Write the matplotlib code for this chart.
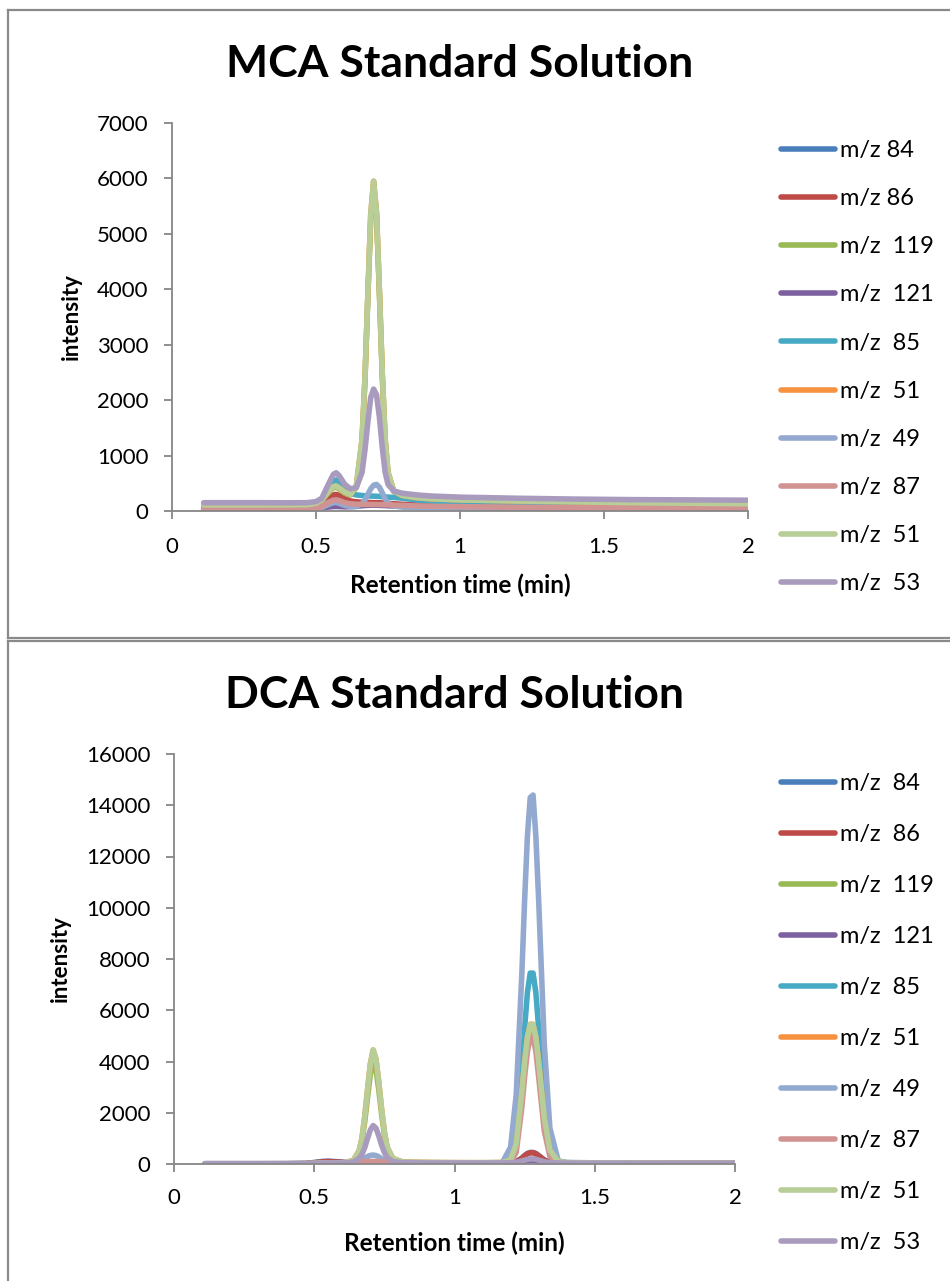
import matplotlib
matplotlib.use('Agg')
import matplotlib.pyplot as plt
from matplotlib.lines import Line2D

plt.rcParams['font.family'] = ['Lato', 'DejaVu Sans']

COLORS = ['#4A7EBB', '#BE4B48', '#98B954', '#7D60A0', '#46AAC5',
          '#F69240', '#93A9CF', '#D19392', '#B9CD96', '#A99BBD']

labels_mca = ['m/z 84', 'm/z 86', 'm/z  119', 'm/z  121', 'm/z  85',
              'm/z  51', 'm/z  49', 'm/z  87', 'm/z  51', 'm/z  53']
labels_dca = ['m/z  84', 'm/z  86', 'm/z  119', 'm/z  121', 'm/z  85',
              'm/z  51', 'm/z  49', 'm/z  87', 'm/z  51', 'm/z  53']

# ---- MCA standard solution (retention time, min) ----
t_mca = [0.11, 0.2, 0.3, 0.4, 0.47, 0.5, 0.52, 0.54, 0.56, 0.57, 0.58, 0.6,
         0.62, 0.64, 0.66, 0.67, 0.68, 0.69, 0.70, 0.71, 0.72, 0.73, 0.74,
         0.75, 0.77, 0.8, 0.85, 0.9, 1.0, 1.2, 1.4, 1.6, 1.8, 2.0]

mca_84 = [30, 30, 30, 30, 32, 50, 100, 190, 245, 250, 235, 190,
          160, 145, 140, 140, 138, 138, 138, 136, 135, 133, 130,
          128, 120, 110, 100, 92, 82, 70, 62, 56, 52, 50]
mca_86 = [40, 40, 40, 40, 42, 60, 110, 220, 290, 300, 280, 220,
          180, 165, 158, 155, 153, 152, 150, 150, 148, 145, 142,
          138, 130, 120, 110, 100, 90, 78, 70, 64, 60, 58]
mca_119 = [100, 100, 100, 100, 105, 130, 190, 310, 420, 430, 400, 320,
           290, 430, 1250, 2350, 3850, 5250, 5900, 5350, 3950, 2450, 1280,
           680, 350, 270, 230, 210, 190, 170, 155, 145, 135, 125]
mca_121 = [20, 20, 20, 20, 22, 30, 50, 70, 80, 82, 80, 75,
           78, 85, 95, 100, 102, 104, 105, 104, 102, 100, 98,
           95, 90, 85, 78, 72, 62, 50, 42, 38, 35, 33]
mca_85 = [70, 70, 70, 70, 75, 100, 170, 380, 540, 560, 520, 400,
          320, 290, 280, 275, 272, 270, 268, 266, 262, 258, 255,
          250, 245, 230, 200, 180, 150, 115, 98, 88, 82, 78]
mca_51o = [110, 110, 110, 110, 115, 140, 200, 330, 440, 450, 420, 340,
           300, 450, 1300, 2400, 3900, 5350, 5950, 5400, 4000, 2500, 1300,
           700, 360, 280, 240, 220, 200, 180, 165, 150, 140, 130]
mca_49 = [40, 40, 40, 40, 42, 48, 60, 110, 150, 155, 140, 100,
          80, 80, 130, 200, 300, 400, 465, 480, 430, 330, 220,
          140, 90, 70, 62, 58, 55, 52, 50, 48, 47, 46]
mca_87 = [30, 30, 30, 30, 32, 45, 80, 150, 195, 200, 190, 150,
          130, 122, 120, 120, 119, 118, 118, 117, 116, 115, 113,
          111, 106, 100, 92, 86, 78, 68, 62, 58, 56, 55]
mca_51g = [110, 110, 110, 110, 115, 140, 200, 330, 440, 450, 420, 340,
           300, 450, 1300, 2400, 3900, 5350, 5950, 5400, 4000, 2500, 1300,
           700, 360, 280, 240, 220, 200, 180, 165, 150, 140, 130]
mca_53 = [150, 150, 150, 148, 150, 170, 230, 450, 660, 690, 640, 480,
          400, 420, 700, 1100, 1600, 2050, 2200, 2100, 1700, 1150, 700,
          480, 360, 320, 290, 270, 250, 230, 215, 205, 200, 195]

# ---- DCA standard solution ----
t_dca = [0.11, 0.2, 0.3, 0.4, 0.47, 0.5, 0.53, 0.55, 0.58, 0.61, 0.64, 0.66,
         0.67, 0.68, 0.69, 0.70, 0.71, 0.72, 0.73, 0.74, 0.75, 0.76, 0.78,
         0.81, 0.85, 0.9, 1.0, 1.1, 1.17, 1.2, 1.22, 1.24, 1.25, 1.26, 1.27,
         1.28, 1.29, 1.3, 1.32, 1.34, 1.37, 1.4, 1.5, 1.7, 2.0]

dca_84 = [10, 10, 10, 12, 20, 60, 100, 110, 90, 60, 45, 40,
          40, 40, 40, 40, 40, 40, 40, 40, 40, 40, 40,
          40, 40, 40, 40, 40, 42, 50, 90, 230, 330, 410, 450,
          450, 410, 330, 160, 70, 40, 35, 30, 25, 20]
dca_86 = [10, 10, 10, 12, 18, 50, 85, 95, 80, 55, 42, 38,
          38, 38, 38, 38, 38, 38, 38, 38, 38, 38, 38,
          38, 38, 38, 38, 38, 40, 48, 85, 220, 320, 400, 440,
          440, 400, 320, 150, 65, 38, 33, 28, 24, 20]
dca_119 = [10, 10, 10, 10, 12, 20, 30, 35, 35, 40, 120, 450,
           900, 1650, 2600, 3500, 4000, 3700, 2900, 1950, 1150, 600, 200,
           90, 60, 55, 50, 50, 55, 160, 750, 2700, 3900, 4800, 5350,
           5350, 4800, 3900, 1750, 520, 90, 50, 40, 30, 20]
dca_121 = [5, 5, 5, 5, 8, 15, 25, 30, 25, 20, 18, 18,
           18, 18, 18, 18, 18, 18, 18, 18, 18, 18, 18,
           18, 18, 18, 18, 18, 20, 25, 40, 80, 110, 135, 150,
           150, 135, 110, 55, 28, 18, 15, 12, 10, 8]
dca_85 = [10, 10, 10, 10, 12, 20, 30, 35, 35, 35, 35, 35,
          35, 35, 35, 35, 35, 35, 35, 35, 35, 35, 35,
          35, 35, 35, 35, 35, 40, 180, 1000, 3600, 5300, 6700, 7450,
          7450, 6700, 5300, 2300, 650, 90, 45, 35, 28, 20]
dca_51o = [10, 10, 10, 10, 12, 20, 30, 35, 35, 45, 150, 520,
           1000, 1850, 2900, 3900, 4450, 4100, 3200, 2150, 1250, 650, 220,
           95, 65, 58, 52, 50, 55, 165, 780, 2800, 4000, 4950, 5450,
           5450, 4950, 4000, 1800, 540, 95, 50, 40, 30, 20]
dca_49 = [10, 10, 10, 10, 12, 20, 30, 35, 35, 40, 60, 120,
          170, 230, 290, 335, 350, 330, 280, 210, 150, 100, 60,
          45, 40, 40, 40, 40, 45, 660, 2700, 7400, 10300, 12800, 14300,
          14400, 12800, 10300, 4700, 1400, 120, 60, 45, 35, 25]
dca_87 = [5, 5, 5, 5, 8, 15, 25, 30, 30, 35, 50, 70,
          80, 90, 95, 100, 100, 98, 95, 90, 85, 80, 72,
          62, 55, 50, 45, 45, 48, 90, 450, 2200, 3400, 4400, 4950,
          4950, 4400, 3400, 1300, 300, 60, 40, 32, 26, 18]
dca_51g = [10, 10, 10, 10, 12, 20, 30, 35, 35, 45, 150, 520,
           1000, 1850, 2900, 3900, 4450, 4100, 3200, 2150, 1250, 650, 220,
           95, 65, 58, 52, 50, 55, 165, 780, 2800, 4000, 4950, 5450,
           5450, 4950, 4000, 1800, 540, 95, 50, 40, 30, 20]
dca_53 = [10, 10, 10, 10, 12, 20, 35, 40, 38, 40, 80, 220,
          380, 640, 1000, 1330, 1500, 1400, 1100, 740, 450, 250, 100,
          55, 45, 40, 40, 40, 42, 50, 70, 120, 150, 180, 200,
          200, 180, 150, 90, 55, 40, 36, 30, 25, 20]

mca_series = [mca_84, mca_86, mca_119, mca_121, mca_85,
              mca_51o, mca_49, mca_87, mca_51g, mca_53]
dca_series = [dca_84, dca_86, dca_119, dca_121, dca_85,
              dca_51o, dca_49, dca_87, dca_51g, dca_53]

AXIS_GRAY = '#868686'
TICK_FS = 16
LEG_FS = 17


def draw_chart(ax, t, series, labels, title, ymax, ystep, leg_y, leg_space,
               xpad, xlabelpad):
    for vals, lab, c in zip(series, labels, COLORS):
        ax.plot(t, vals, color=c, lw=4, label=lab,
                solid_capstyle='round', solid_joinstyle='round')
    ax.set_xlim(0, 2)
    ax.set_ylim(0, ymax)
    ax.set_xticks([0, 0.5, 1, 1.5, 2])
    ax.set_xticklabels(['0', '0.5', '1', '1.5', '2'])
    ax.set_yticks(range(0, ymax + 1, ystep))
    for s in ['top', 'right']:
        ax.spines[s].set_visible(False)
    for s in ['left', 'bottom']:
        ax.spines[s].set_color(AXIS_GRAY)
        ax.spines[s].set_linewidth(1.3)
    ax.tick_params(axis='both', colors=AXIS_GRAY, width=1.3, length=6,
                   labelcolor='black', labelsize=TICK_FS)
    ax.tick_params(axis='y', pad=11)
    ax.tick_params(axis='x', pad=xpad)
    ax.set_title(title, fontsize=32, fontweight='bold', pad=33)
    ax.set_xlabel('Retention time (min)', fontsize=17.5, fontweight='bold',
                  labelpad=xlabelpad)
    ax.set_ylabel('intensity', fontsize=16, fontweight='bold', labelpad=11)
    ax.legend(loc='upper left', bbox_to_anchor=(0.822, leg_y),
              bbox_transform=fig.transFigure, frameon=False, fontsize=LEG_FS,
              handlelength=2.3, handletextpad=0.2, labelspacing=leg_space,
              borderpad=0, borderaxespad=0)


fig = plt.figure(figsize=(9.5, 12.81), dpi=100)

ax1 = fig.add_axes([172 / 950, 1 - 511 / 1281, (748 - 172) / 950, (511 - 123) / 1281])
draw_chart(ax1, t_mca, mca_series, labels_mca, 'MCA Standard Solution',
           7000, 1000, 1 - 140 / 1281, 1.15, 12.5, 12)

ax2 = fig.add_axes([174 / 950, 1 - 1164 / 1281, (735 - 174) / 950, (1164 - 754) / 1281])
draw_chart(ax2, t_dca, dca_series, labels_dca, 'DCA Standard Solution',
           16000, 2000, 1 - 773 / 1281, 1.27, 11, 17)

# chart frames
frame_kw = dict(color='#8A8A8A', lw=1.6, transform=fig.transFigure)
fx = 8 / 950
fig.add_artist(Line2D([fx, 1], [1 - 10 / 1281, 1 - 10 / 1281], **frame_kw))
fig.add_artist(Line2D([fx, fx], [1 - 10 / 1281, 1 - 638 / 1281], **frame_kw))
fig.add_artist(Line2D([fx, 1], [1 - 638 / 1281, 1 - 638 / 1281], **frame_kw))
fig.add_artist(Line2D([fx, 1], [1 - 641 / 1281, 1 - 641 / 1281], **frame_kw))
fig.add_artist(Line2D([fx, fx], [1 - 641 / 1281, 0], **frame_kw))

fig.savefig('out.png', dpi=100)
